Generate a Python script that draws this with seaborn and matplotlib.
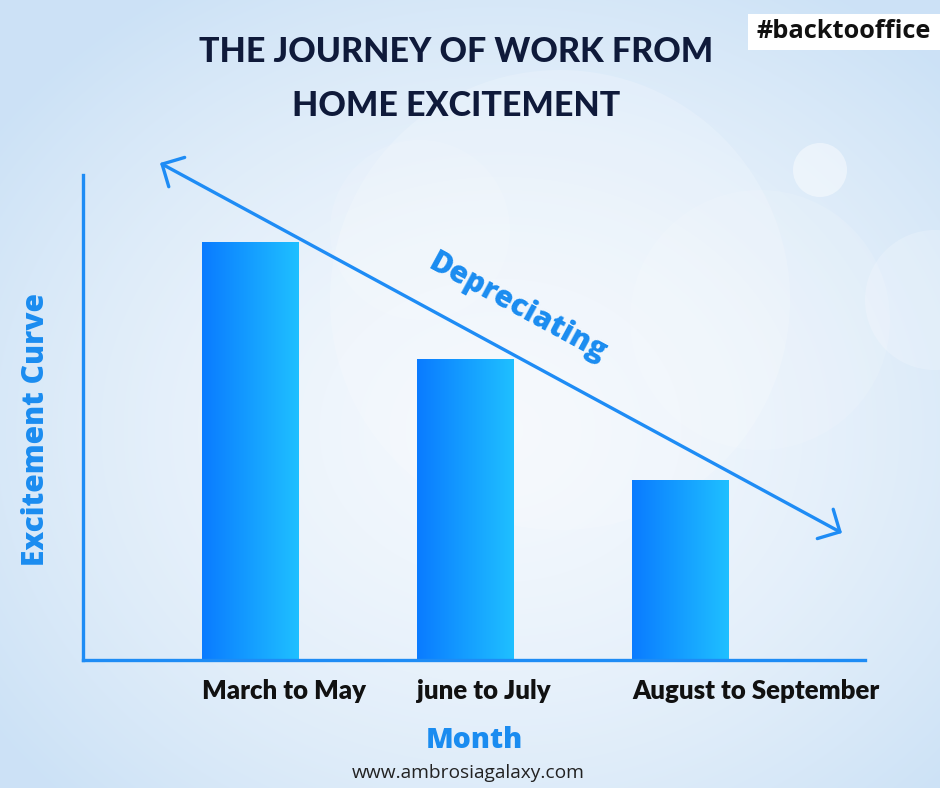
import numpy as np
import matplotlib
matplotlib.use("Agg")
import matplotlib.pyplot as plt
import seaborn as sns
from matplotlib.colors import LinearSegmentedColormap
from matplotlib.patches import Circle, Rectangle

# ---- data ----
months = ["March to May", "june to July", "August to September"]
excitement = [86, 62, 37]

title_lines = ["THE JOURNEY OF WORK FROM", "HOME EXCITEMENT"]
x_label = "Month"
y_label = "Excitement Curve"
trend_label = "Depreciating"
hashtag = "#backtooffice"
website = "www.ambrosiagalaxy.com"

sns.set_theme(style="white")
plt.rcParams['font.family'] = ['Lato', 'DejaVu Sans']

W, H = 940, 788
fig = plt.figure(figsize=(W / 100, H / 100), dpi=100)

# ---- background ----
bg = fig.add_axes([0, 0, 1, 1], zorder=-10)
yy, xx = np.mgrid[0:H, 0:W]
d = np.sqrt(((xx - 500) / 620.0) ** 2 + ((yy - 430) / 520.0) ** 2)
t = np.clip(d, 0, 1) ** 1.6
c_in = np.array([0.955, 0.973, 0.992])
c_out = np.array([0.80, 0.885, 0.965])
img = c_in[None, None, :] * (1 - t[..., None]) + c_out[None, None, :] * t[..., None]
bg.imshow(img, extent=[0, W, H, 0], aspect='auto', interpolation='bilinear')
bg.set_xlim(0, W)
bg.set_ylim(H, 0)
bg.axis('off')
# soft clouds
for (cx, cy, r, a) in [(560, 300, 230, 0.18), (820, 170, 27, 0.45), (935, 300, 70, 0.2),
                       (420, 230, 90, 0.12), (760, 320, 130, 0.12)]:
    bg.add_patch(Circle((cx, cy), r, color='white', alpha=a, lw=0))

# ---- main chart ----
ax = fig.add_axes([83 / W, 128 / H, 782 / W, 485 / H])
ax.patch.set_alpha(0)
sns.barplot(x=months, y=excitement, ax=ax, width=0.447, color="#1a8cff")

grad = LinearSegmentedColormap.from_list("g", ["#0a7bff", "#1fc0ff"])
gimg = np.linspace(0, 1, 256)[None, :]
for p in ax.patches:
    x0, y0, w, h = p.get_x(), p.get_y(), p.get_width(), p.get_height()
    p.set_visible(False)
    ax.imshow(gimg, cmap=grad, extent=[x0, x0 + w, y0, y0 + h], aspect='auto', zorder=2)

# tick labels left aligned at bar left edges
ax.set_xticks([])
for p, lab in zip(ax.patches, months):
    ax.text(p.get_x(), -0.063, lab, transform=ax.get_xaxis_transform(), ha='left', va='center',
            fontsize=18.5, fontweight='heavy', color='#111111')

ax.set_xlim(-0.777, 2.86)
ax.set_ylim(0, 100)
ax.set_yticks([])
ax.set_xlabel("")
ax.set_ylabel("")
for s in ['top', 'right']:
    ax.spines[s].set_visible(False)
for s in ['left', 'bottom']:
    ax.spines[s].set_color('#1e8cf5')
    ax.spines[s].set_linewidth(2.4)

# ---- arrow + label ----
fig.add_artist(plt.Annotation('', xy=(842 / W, 1 - 533 / H), xytext=(160 / W, 1 - 163 / H),
                              xycoords='figure fraction', textcoords='figure fraction',
                              arrowprops=dict(arrowstyle='<->,head_length=0.6,head_width=0.6',
                                              mutation_scale=20, lw=2.4, color='#1e8cf5',
                                              shrinkA=0, shrinkB=0)))
fig.text(518 / W, 1 - 308 / H, trend_label, rotation=-28.5, rotation_mode='anchor',
         ha='center', va='center', fontsize=21.5, fontweight='heavy', color='#1a8cf0',
         family=['Open Sans', 'DejaVu Sans'])

# ---- titles / labels ----
fig.text(456 / W, 1 - 52 / H, title_lines[0], ha='center', va='center', fontsize=24.5,
         fontweight='black', color='#0f1a3a')
fig.text(456 / W, 1 - 106 / H, title_lines[1], ha='center', va='center', fontsize=24.5,
         fontweight='black', color='#0f1a3a')
fig.text(36 / W, 1 - 429 / H, y_label, rotation=90, ha='center', va='center', fontsize=21.5,
         fontweight='heavy', color='#1a8cf0', family=['Open Sans', 'DejaVu Sans'])
fig.text(474 / W, 1 - 741 / H, x_label, ha='center', va='center', fontsize=20.5,
         fontweight='heavy', color='#1a8cf0', family=['Open Sans', 'DejaVu Sans'])
fig.text(468 / W, 1 - 773 / H, website, ha='center', va='center', fontsize=13.8,
         color='#222222', family=['Open Sans', 'DejaVu Sans'])

fig.add_artist(Rectangle((748 / W, 1 - 50 / H), 192 / W, 36 / H, transform=fig.transFigure,
                         facecolor='white', edgecolor='none'))
fig.text(844 / W, 1 - 32 / H, hashtag, ha='center', va='center', fontsize=18.3,
         fontweight='bold', color='#111111', family=['Open Sans', 'DejaVu Sans'])

fig.savefig("out.png", dpi=100)
